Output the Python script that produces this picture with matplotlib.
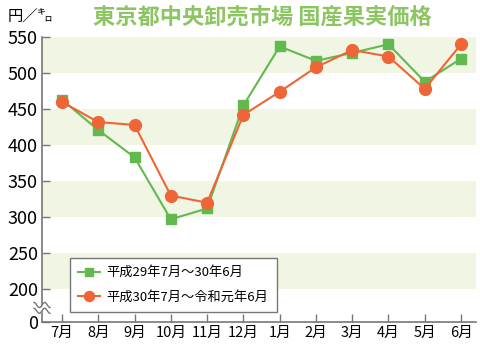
import numpy as np
import matplotlib
matplotlib.use("Agg")
import matplotlib.pyplot as plt

plt.rcParams['font.family'] = ['Noto Sans CJK JP', 'DejaVu Sans']

months = ['7月', '8月', '9月', '10月', '11月', '12月', '1月', '2月', '3月', '4月', '5月', '6月']
h29 = [463, 421, 383, 297, 312, 455, 537, 517, 528, 540, 488, 520]
h30 = [460, 432, 428, 330, 320, 442, 474, 508, 532, 523, 478, 540]
ytick_vals = [200, 250, 300, 350, 400, 450, 500, 550]
label_h29 = '平成29年7月～30年6月'
label_h30 = '平成30年7月～令和元年6月'

green = '#62b94f'
orange = '#ee6537'
band = '#f0f6e3'
grey = '#777777'

# the axis is broken between 0 and 200: "0" sits at this position
zero_pos = 154.5

fig = plt.figure(figsize=(4.8, 3.53), dpi=100)
ax = fig.add_axes([0.0875, 0.088, 0.904, 0.807])

x = np.arange(len(months))
ax.set_xlim(-0.55, 11.41)
ax.set_ylim(zero_pos, 550)

for lo in [200, 300, 400, 500]:
    ax.axhspan(lo, lo + 50, color=band, lw=0, zorder=0)

ax.plot(x, h29, color=green, lw=1.5, marker='s', ms=7.5, mec=green, zorder=3, label=label_h29)
ax.plot(x, h30, color=orange, lw=1.5, marker='o', ms=8.5, mec=orange, zorder=4, label=label_h30)

ax.set_xticks(x)
ax.set_xticklabels(months, fontsize=10.5)
ax.set_yticks([zero_pos] + ytick_vals)
ax.set_yticklabels(['0'] + [str(v) for v in ytick_vals], fontsize=13)
ax.tick_params(axis='both', direction='in', color=grey, length=6, width=1, pad=3)
for s in ['top', 'right']:
    ax.spines[s].set_visible(False)
for s in ['left', 'bottom']:
    ax.spines[s].set_color(grey)
    ax.spines[s].set_linewidth(1.2)

# break marks on the y axis
t = np.linspace(-1, 1, 50)
bx = -0.55 + t * 0.22
wave = 3.5 * np.sin(t * np.pi * 1.5)
ax.fill_between(bx, 170 + wave, 178 + wave, color='white', lw=0, clip_on=False, zorder=5)
for yc in [178, 170]:
    ax.plot(bx, yc + wave, color=grey, lw=1, clip_on=False, zorder=6)

leg = ax.legend(loc='lower left', bbox_to_anchor=(0.064, 0.035), borderaxespad=0,
                fontsize=9.5, frameon=True, fancybox=False, edgecolor=grey, framealpha=1,
                handlelength=1.7, handletextpad=0.5, borderpad=0.6, labelspacing=0.9,
                markerscale=0.85)
leg.get_frame().set_linewidth(1)

fig.text(0.015, 0.955, '円／㌔', fontsize=11, ha='left', va='center')
fig.text(0.546, 0.952, '東京都中央卸売市場 国産果実価格', fontsize=16, fontweight='bold',
         color='#8cc562', ha='center', va='center')

fig.savefig('out.png', dpi=100)
